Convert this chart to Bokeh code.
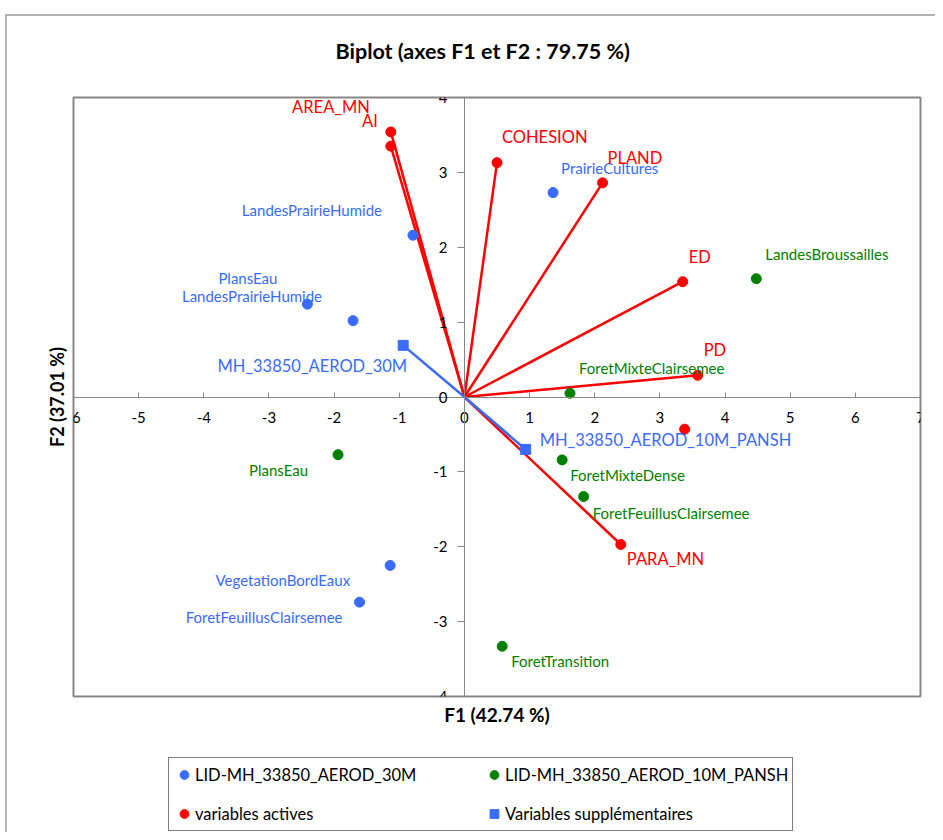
from bokeh.plotting import figure
from bokeh.layouts import column
from bokeh.models import (ColumnDataSource, Range1d, LinearAxis, FixedTicker,
                          Legend, LegendItem, Title)
from bokeh.embed import file_html
from bokeh.resources import INLINE
from bokeh.core.properties import value

# ---------------- data ----------------
obs30_names = ["PrairieCultures", "LandesPrairieHumide", "PlansEau",
               "LandesPrairieHumide", "VegetationBordEaux", "ForetFeuillusClairsemee"]
obs30_x = [1.36, -0.79, -2.41, -1.71, -1.14, -1.61]
obs30_y = [2.73, 2.16, 1.24, 1.02, -2.25, -2.74]

obs10_names = ["LandesBroussailles", "ForetMixteClairsemee", "PlansEau",
               "ForetMixteDense", "ForetFeuillusClairsemee", "ForetTransition"]
obs10_x = [4.48, 1.62, -1.94, 1.50, 1.83, 0.58]
obs10_y = [1.58, 0.05, -0.77, -0.84, -1.33, -3.33]

act_names = ["AREA_MN", "AI", "COHESION", "PLAND", "ED", "PD", "PARA_MN"]
act_x = [-1.13, -1.13, 0.50, 2.12, 3.35, 3.58, 2.40]
act_y = [3.54, 3.35, 3.13, 2.86, 1.54, 0.29, -1.97]

act_extra_x = [3.38]
act_extra_y = [-0.43]

sup_names = ["MH_33850_AEROD_30M", "MH_33850_AEROD_10M_PANSH"]
sup_x = [-0.94, 0.94]
sup_y = [0.69, -0.70]

x_ticks = list(range(-6, 8))
y_ticks = list(range(-4, 5))

title_text = "Biplot (axes F1 et F2 : 79.75 %)"
x_label = "F1 (42.74 %)"
y_label = "F2 (37.01 %)"
legend_labels = ["LID-MH_33850_AEROD_30M", "LID-MH_33850_AEROD_10M_PANSH",
                 "variables actives", "Variables supplémentaires"]

# ---------------- label placement (layout, pixels) ----------------
obs30_lbl = [("left", 8, -25), ("right", -31, -25), ("right", -30, -26),
             ("right", -31, -25), ("right", -40, 15), ("right", -17, 15)]
obs10_lbl = [("left", 9, -25), ("left", 9, -25), ("right", -30, 15),
             ("left", 8, 15), ("left", 9, 16), ("left", 9, 15)]
act_lbl = [("right", -21, -25), ("right", -13, -25), ("left", 5, -26),
           ("left", 5, -25), ("left", 6, -25), ("left", 6, -25), ("left", 6, 14)]
sup_lbl = [("right", 4, 21), ("left", 14, -9)]

FONT = "Lato"
BLUE = "#3A6BFF"
GREEN = "#008000"
RED = "#FF0000"
GRAY = "#878787"


def src(names, xs, ys, lbl):
    return ColumnDataSource(dict(
        name=names, x=xs, y=ys,
        align=[a for a, _, _ in lbl],
        dx=[d for _, d, _ in lbl],
        dy=[d for _, _, d in lbl]))


s30 = src(obs30_names, obs30_x, obs30_y, obs30_lbl)
s10 = src(obs10_names, obs10_x, obs10_y, obs10_lbl)
sact = src(act_names, act_x, act_y, act_lbl)
ssup = src(sup_names, sup_x, sup_y, sup_lbl)
sext = ColumnDataSource(dict(x=act_extra_x, y=act_extra_y))

p = figure(width=935, height=750, x_range=Range1d(-6, 7), y_range=Range1d(-4, 4),
           output_backend="svg", toolbar_location=None,
           x_axis_location=None, y_axis_location=None,
           min_border_left=73, min_border_right=15, min_border_top=97,
           min_border_bottom=54)
p.xgrid.visible = False
p.ygrid.visible = False
p.outline_line_color = GRAY
p.outline_line_width = 2
p.border_fill_color = None
p.background_fill_color = "white"

# title
p.title.text = title_text
p.title.align = "left"
p.title.offset = 262
p.title.text_font = FONT
p.title.text_font_size = "21.5px"
p.title.text_font_style = "bold"
p.title.text_color = "black"
p.title.standoff = 68

# axes crossing at the origin
xa = LinearAxis(fixed_location=0, ticker=FixedTicker(ticks=x_ticks))
ya = LinearAxis(fixed_location=0, ticker=FixedTicker(ticks=y_ticks))
xa.major_label_overrides = {t: str(t) for t in x_ticks}
ya.major_label_overrides = {t: str(t) for t in y_ticks}
for ax in (xa, ya):
    ax.axis_line_color = GRAY
    ax.major_tick_line_color = GRAY
    ax.minor_tick_line_color = None
    ax.major_label_text_font = FONT
    ax.major_label_text_font_size = "15px"
    ax.major_label_text_color = "black"
xa.major_tick_in = 5
xa.major_tick_out = 0
xa.major_label_standoff = 15
ya.major_tick_in = 0
ya.major_tick_out = 7
ya.major_label_standoff = 10
p.add_layout(xa, "below")
p.add_layout(ya, "left")

# axis titles
p.add_layout(Title(text=x_label, align="center", text_font=FONT,
                   text_font_size="19px", text_font_style="bold",
                   text_color="black", standoff=8), "below")
p.add_layout(Title(text=y_label, align="center", text_font=FONT,
                   text_font_size="18px", text_font_style="bold",
                   text_color="black", standoff=12), "left")

# vectors
p.segment(x0=0, y0=0, x1="x", y1="y", source=sact, line_color=RED, line_width=2.5)
p.segment(x0=0, y0=0, x1="x", y1="y", source=ssup, line_color=BLUE, line_width=2.5)

# points
p.scatter("x", "y", source=s30, size=10, color=BLUE)
p.scatter("x", "y", source=s10, size=10, color=GREEN)
p.scatter("x", "y", source=sact, size=10, color=RED)
p.scatter("x", "y", source=sext, size=10, color=RED)
p.scatter("x", "y", source=ssup, size=10, marker="square", color=BLUE)

# labels
for s, col, fs in ((s30, BLUE, "15px"), (s10, GREEN, "15px"),
                   (sact, RED, "16.5px"), (ssup, BLUE, "16.5px")):
    p.text(x="x", y="y", text="name", source=s, x_offset="dx", y_offset="dy",
           text_align="align", text_baseline="middle",
           text_font=value(FONT), text_font_size=fs, text_color=col)

# ---------------- legend strip ----------------
pl = figure(width=935, height=82, x_range=Range1d(0, 1), y_range=Range1d(0, 1),
            output_backend="svg", toolbar_location=None,
            x_axis_location=None, y_axis_location=None, min_border=0)
pl.title.visible = False
pl.grid.visible = False
pl.outline_line_color = None
pl.background_fill_color = None
pl.border_fill_color = None
# legend swatches (kept outside the visible range of this strip)
l30 = pl.scatter(x=[-5], y=[-5], size=10, color=BLUE)
l10 = pl.scatter(x=[-5], y=[-5], size=10, color=GREEN)
lact = pl.scatter(x=[-5], y=[-5], size=10, color=RED)
lsup = pl.scatter(x=[-5], y=[-5], size=10, marker="square", color=BLUE)

legend = Legend(items=[
    LegendItem(label=legend_labels[0], renderers=[l30]),
    LegendItem(label=legend_labels[1], renderers=[l10]),
    LegendItem(label=legend_labels[2], renderers=[lact]),
    LegendItem(label=legend_labels[3], renderers=[lsup]),
], orientation="horizontal", ncols=2, location=(95, 1))
legend.border_line_color = "black"
legend.border_line_width = 1
legend.background_fill_color = "white"
legend.label_text_font = FONT
legend.label_text_font_size = "16.5px"
legend.label_text_color = "black"
legend.glyph_width = 22
legend.glyph_height = 25
legend.label_height = 25
legend.label_width = 274
legend.spacing = 14
legend.padding = 4
legend.label_standoff = 0
legend.margin = 0
pl.add_layout(legend)

frame_css = {
    "background-image": "linear-gradient(#b3b3b3, #b3b3b3), linear-gradient(#b3b3b3, #b3b3b3)",
    "background-size": "100% 2px, 2px 100%",
    "background-position": "5px 14px, 5px 14px",
    "background-repeat": "no-repeat",
}
layout = column(p, pl, spacing=0, styles=frame_css)

open("out.html", "w").write(file_html(layout, INLINE))
